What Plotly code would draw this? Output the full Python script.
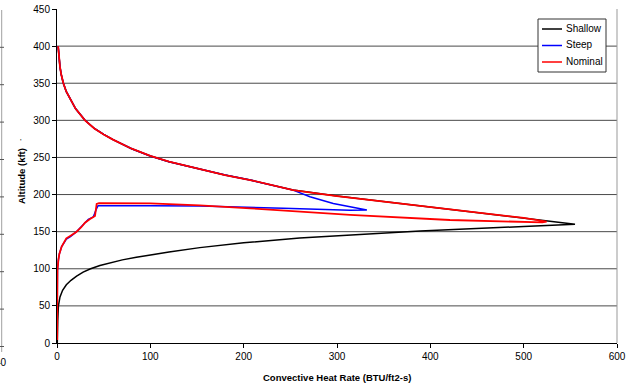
import plotly.graph_objects as go

# ---- data (heat rate BTU/ft2-s, altitude kft) ----
upper_rate = [1.2, 2, 3.2, 4.5, 6.8, 10, 15.7, 20, 30, 40, 50, 60, 80, 100, 120, 153, 180, 207, 230, 253]
upper_alt = [400, 385.4, 372, 362, 350, 338.6, 325, 315.5, 300, 289, 281, 274, 261.8, 252, 244.3, 234, 226.3, 219.6, 212.5, 206]

shallow_rate = upper_rate + [300, 350, 400, 450, 500, 525, 555,
                             500, 450, 389, 320, 260, 200, 153, 120, 100, 85, 70, 58, 46, 36, 28, 21, 15, 10, 6, 3.2, 1.5, 0.8, 0.5, 0.3]
shallow_alt = upper_alt + [198, 190.5, 183.5, 176, 168.5, 164.5, 160,
                           157, 154.5, 151, 146, 141.5, 135, 128.5, 122.5, 119, 115.5, 112, 108.5, 104.5, 100, 95.5, 90, 84.5, 78.5, 71, 62, 50, 30, 10, 0]

steep_rate = upper_rate + [271, 296, 332,
                           314, 242.5, 153, 100, 46, 44, 42, 39, 33.6, 28, 25, 20, 14, 10, 5, 2.5, 1.5, 0.5, 0.3, 0.2]
steep_alt = upper_alt + [197, 188, 179.2,
                         179, 181.5, 184.6, 185, 185.5, 185, 180, 170, 166.6, 159, 155, 149, 143, 140, 130, 120, 112, 98, 60, 4]

nominal_rate = upper_rate + [300, 350, 400, 450, 500, 524.6,
                             520, 421, 389, 314, 207, 153, 100, 60, 45, 42.5, 41.8, 40.7, 35, 30, 26, 21, 15, 10, 5, 2.5, 1.5, 0.5, 0.3, 0.2]
nominal_alt = upper_alt + [198, 190.5, 183.5, 176, 168.5, 163.4,
                           162.5, 165.7, 168, 172.5, 181.5, 185.5, 188, 188.5, 188.5, 187.5, 183, 171, 166.6, 162, 156, 150, 145, 141, 130, 120, 112, 98, 60, 4]

series_names = ["Shallow", "Steep", "Nominal"]
series_colors = ["#000000", "#0000ff", "#ff0000"]
series_widths = [1.5, 1.5, 1.8]

x_ticks = [0, 100, 200, 300, 400, 500, 600]
y_ticks = [0, 50, 100, 150, 200, 250, 300, 350, 400, 450]
grid_vals = [50, 100, 150, 200, 250, 300, 350, 400]

FONT = "Liberation Sans, Arial, sans-serif"

fig = go.Figure()
for xs, ys, nm, col, wd in zip([shallow_rate, steep_rate, nominal_rate],
                               [shallow_alt, steep_alt, nominal_alt],
                               series_names, series_colors, series_widths):
    fig.add_trace(go.Scatter(x=xs, y=ys, mode="lines", name=nm, showlegend=False,
                             line=dict(color=col, width=wd)))

W, H = 629, 387
L, R, T, B = 57, 12, 9, 44
pw, ph = W - L - R, H - T - B

def px(x):
    return (x - L) / pw

def py(y):
    return (H - B - y) / ph

shapes = []
for v in grid_vals:
    shapes.append(dict(type="line", xref="paper", yref="y", x0=0, x1=1, y0=v, y1=v,
                       line=dict(color="#4a4a4a", width=1), layer="below"))
# right border of plot area
shapes.append(dict(type="line", xref="paper", yref="paper", x0=1, x1=1, y0=0, y1=1,
                   line=dict(color="#999999", width=1)))
# cropped neighbouring chart at the far left
shapes.append(dict(type="line", xref="paper", yref="paper", x0=px(1.7), x1=px(1.7), y0=py(352), y1=py(10),
                   line=dict(color="#a0a0a0", width=1)))
for k in range(9):
    yy = 346.5 - k * 37.4
    shapes.append(dict(type="line", xref="paper", yref="paper", x0=px(0), x1=px(4), y0=py(yy), y1=py(yy),
                       line=dict(color="#555555", width=1)))

# legend box (drawn manually to match the compact layout)
shapes.append(dict(type="rect", xref="paper", yref="paper", x0=px(538), x1=px(606), y0=py(72), y1=py(19),
                   line=dict(color="#333333", width=1), fillcolor="white", layer="above"))
annotations = []
for i, (nm, col) in enumerate(zip(series_names, series_colors)):
    ly = 29 + i * 16.5
    shapes.append(dict(type="line", xref="paper", yref="paper", x0=px(542), x1=px(562), y0=py(ly), y1=py(ly),
                       line=dict(color=col, width=1.5), layer="above"))
    annotations.append(dict(text=nm, xref="paper", yref="paper", x=px(564), y=py(ly - 0.5),
                            xanchor="left", yanchor="middle", showarrow=False,
                            font=dict(family=FONT, size=10, color="#000000")))

annotations += [
    dict(text="<b>Convective Heat Rate (BTU/ft2-s)</b>", xref="paper", yref="paper",
         x=0.5, y=py(377), xanchor="center", yanchor="middle", showarrow=False,
         font=dict(family=FONT, size=9.5, color="#000000")),
    dict(text="<b>Altitude (kft)</b>", xref="paper", yref="paper",
         x=px(21), y=py(176), xanchor="center", yanchor="middle", showarrow=False, textangle=-90,
         font=dict(family=FONT, size=9.5, color="#000000")),
    dict(text="'", xref="paper", yref="paper",
         x=px(21), y=py(141), xanchor="center", yanchor="middle", showarrow=False,
         font=dict(family=FONT, size=8, color="#000000")),
    dict(text="40", xref="paper", yref="paper",
         x=px(8.5), y=py(362), xanchor="right", yanchor="middle", showarrow=False,
         font=dict(family=FONT, size=10, color="#000000")),
]

fig.update_layout(
    width=W, height=H,
    margin=dict(l=L, r=R, t=T, b=B, pad=0, autoexpand=False),
    paper_bgcolor="white", plot_bgcolor="white",
    font=dict(family=FONT, size=10, color="#000000"),
    showlegend=False,
    xaxis=dict(range=[0, 600], tickvals=x_ticks, ticktext=[str(v) for v in x_ticks], automargin=False,
               showgrid=False, zeroline=False, showline=True, linecolor="#000000", linewidth=1,
               ticks="outside", ticklen=4, tickcolor="#000000", tickfont=dict(family=FONT, size=10)),
    yaxis=dict(range=[0, 450], tickvals=y_ticks, ticktext=[str(v) for v in y_ticks], automargin=False,
               showgrid=False, zeroline=False, showline=True, linecolor="#000000", linewidth=1,
               ticks="outside", ticklen=4, tickcolor="#000000", tickfont=dict(family=FONT, size=10)),
    shapes=shapes,
    annotations=annotations,
)

fig.write_html("out.html")
